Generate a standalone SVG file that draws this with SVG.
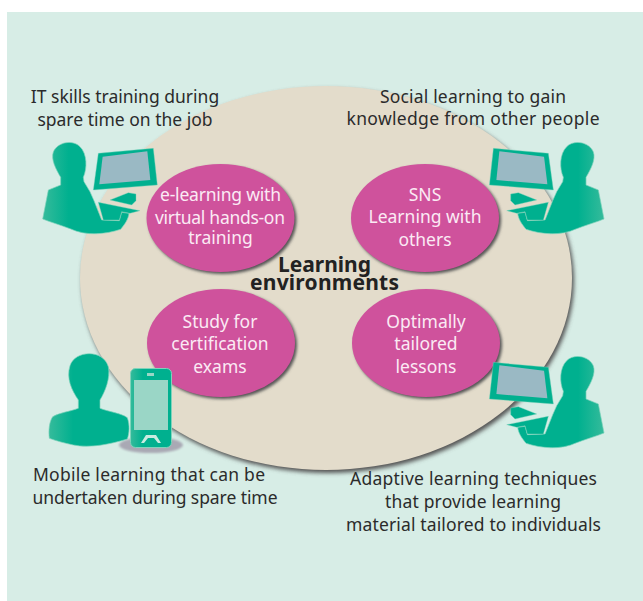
<svg xmlns="http://www.w3.org/2000/svg" width="643" height="601" viewBox="0 0 643 601">
<style>
text{font-family:"Noto Sans","Open Sans","DejaVu Sans",sans-serif;text-anchor:middle}
.c{font-size:17.5px;fill:#2b2b2b}
.w{font-size:17.5px;fill:#fbeaf4}
.t{font-size:21px;font-weight:700;fill:#222}
.b{fill:#cf529c}
.d{fill:#555;filter:url(#sb)}
.p{fill:url(#g);stroke:#7fd3bb;stroke-width:2}
.m{fill:#00b08f;stroke:#7fd3bb;stroke-width:1.2}
.s{fill:#9ab9c4}
</style>
<defs>
<linearGradient id="g" x1="0" x2="1" y1="0" y2="0"><stop offset="0" stop-color="#35bb9b"/><stop offset=".3" stop-color="#00b08f"/><stop offset="1" stop-color="#00b08f"/></linearGradient>
<filter id="sh" x="-5%" y="-5%" width="110%" height="110%"><feGaussianBlur stdDeviation="2"/></filter>
<filter id="sb" x="-10%" y="-10%" width="120%" height="120%"><feGaussianBlur stdDeviation="1.5"/></filter>
<filter id="sh2" x="-20%" y="-50%" width="140%" height="200%"><feGaussianBlur stdDeviation="1"/></filter>
<g id="user">
<path class="p" d="M92,142C78,118 62,88 70,66C82,36 128,28 150,50C172,72 172,115 160,142L162,155L180,185L192,212L215,270L268,272L275,247L297,250C295,268 285,282 272,298C230,312 170,320 120,296C90,285 60,276 38,267L55,180L92,165Z"/>
<path class="m" d="M205,70L370,55L382,165L190,180Z"/>
<path class="s" d="M218,80L352,64L361,150L208,163Z"/>
<path class="m" d="M240,210L295,188L318,192L318,212L305,225Z"/>
<path class="m" d="M205,217L330,242L300,250L275,245L268,270L220,270Z"/>
</g>
</defs>
<rect width="643" height="601" fill="#fff"/>
<rect x="7" y="12" width="636" height="589" fill="#d7ede6"/>
<g id="environment">
<ellipse cx="328" cy="281" rx="246" ry="192" fill="#555" filter="url(#sh)"/>
<ellipse cx="326" cy="278" rx="246" ry="192" fill="#e3dccb"/>
</g>
<g id="connectors"></g>
<g id="node-elearning"><ellipse class="d" cx="222.500" cy="220" rx="74" ry="54"/><ellipse class="b" cx="220.500" cy="218" rx="74" ry="54"/>
<text class="w" x="220.500" y="201" textLength="121">e-learning with</text><text class="w" x="220" y="224" textLength="130">virtual hands-on</text><text class="w" x="220.500" y="244">training</text></g>
<g id="node-sns"><ellipse class="d" cx="427" cy="220" rx="74" ry="54"/><ellipse class="b" cx="425" cy="218" rx="74" ry="54"/>
<text class="w" x="425" y="201">SNS</text><text class="w" x="425" y="223">Learning with</text><text class="w" x="425" y="246">others</text></g>
<g id="node-cert"><ellipse class="d" cx="223" cy="345" rx="74" ry="54"/><ellipse class="b" cx="221" cy="343" rx="74" ry="54"/>
<text class="w" x="220" y="328">Study for</text><text class="w" x="220" y="350">certification</text><text class="w" x="220" y="373">exams</text></g>
<g id="node-tailored"><ellipse class="d" cx="428" cy="345" rx="74" ry="54"/><ellipse class="b" cx="426" cy="343" rx="74" ry="54"/>
<text class="w" x="426" y="328">Optimally</text><text class="w" x="426" y="350">tailored</text><text class="w" x="426" y="373">lessons</text></g>
<g id="node-title"><text class="t" x="324.500" y="272" textLength="93">Learning</text><text class="t" x="324.500" y="290" textLength="149">environments</text></g>
<g id="node-it"><use href="#user" transform="translate(30,130) scale(.3333)"/>
<text class="c" x="125" y="103">IT skills training during</text><text class="c" x="125" y="126">spare time on the job</text></g>
<g id="node-social"><use href="#user" transform="translate(616.7,130) scale(-.3333,.3333)"/>
<text class="c" x="473" y="103" textLength="186">Social learning to gain</text><text class="c" x="473" y="125" textLength="253">knowledge from other people</text></g>
<g id="node-mobile">
<ellipse cx="151" cy="445" rx="32" ry="8" fill="#a9a9b4" filter="url(#sh2)"/>
<path class="p" transform="translate(40,345) scale(.3333)" d="M115,165C95,135 78,100 90,62C105,15 190,12 205,65C212,100 195,140 180,165L180,190C205,200 245,205 262,218C270,240 268,265 262,282C210,298 150,310 100,300C75,295 50,288 28,280C25,255 28,230 38,215C60,202 90,200 115,190Z"/>
<rect x="130.500" y="368.500" width="41" height="79" rx="5" fill="url(#g)" stroke="#7fd3bb"/>
<rect x="134" y="380" width="34" height="50" fill="#9ad6c6"/>
<rect x="147" y="373" width="7" height="3" fill="#9ad6c6"/>
<path d="M141,443L146,435H156L161,443H158L154,438H148L144,443Z" fill="#c8ebe1"/>
<text class="c" x="149" y="481" textLength="232">Mobile learning that can be</text><text class="c" x="155" y="504" textLength="245">undertaken during spare time</text></g>
<g id="node-adaptive"><use href="#user" transform="translate(616.7,344) scale(-.3333,.3333)"/>
<text class="c" x="473.500" y="485" textLength="247">Adaptive learning techniques</text><text class="c" x="473" y="508" textLength="176">that provide learning</text><text class="c" x="473.500" y="531" textLength="255">material tailored to individuals</text></g>
</svg>
